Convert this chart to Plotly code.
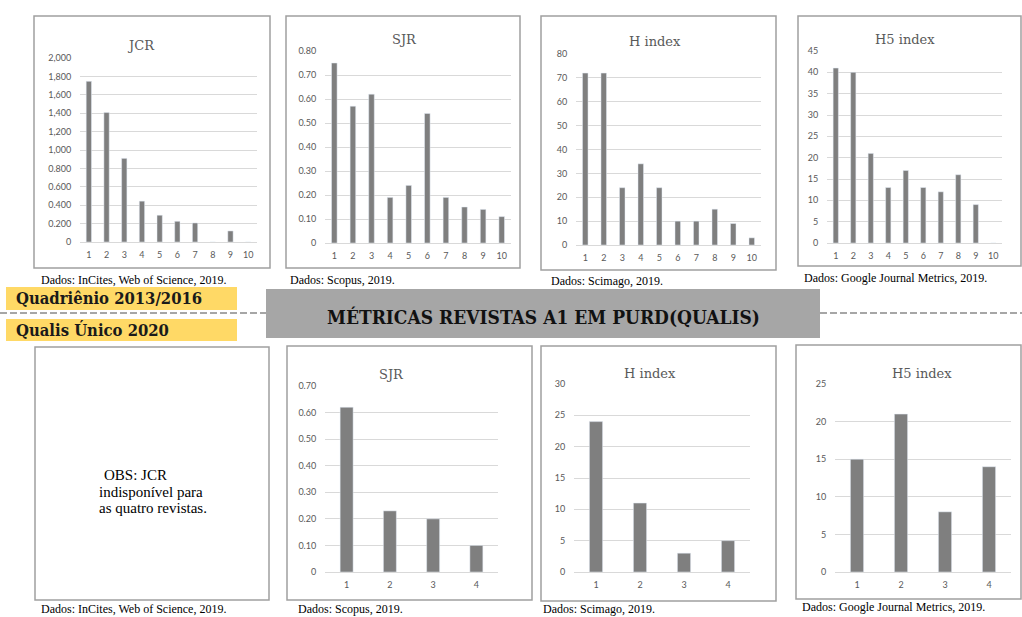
import plotly.graph_objects as go

W, H = 1022, 617

# ---------------- data ----------------
cats10 = ["1", "2", "3", "4", "5", "6", "7", "8", "9", "10"]
cats4 = ["1", "2", "3", "4"]

jcr_2016 = [1.746, 1.407, 0.909, 0.444, 0.291, 0.225, 0.207, 0, 0.12, 0]
sjr_2016 = [0.75, 0.57, 0.62, 0.19, 0.24, 0.54, 0.19, 0.15, 0.14, 0.11]
hindex_2016 = [72, 72, 24, 34, 24, 10, 10, 15, 9, 3]
h5index_2016 = [41, 40, 21, 13, 17, 13, 12, 16, 9, 0]

sjr_2020 = [0.62, 0.23, 0.20, 0.10]
hindex_2020 = [24, 11, 3, 5]
h5index_2020 = [15, 21, 8, 14]

jcr_tickvals = [0, 0.2, 0.4, 0.6, 0.8, 1.0, 1.2, 1.4, 1.6, 1.8, 2.0]
jcr_ticktext = ["0", "0.200", "0.400", "0.600", "0.800", "1,000", "1,200", "1,400", "1,600", "1,800", "2,000"]
sjr8_tickvals = [0, 0.1, 0.2, 0.3, 0.4, 0.5, 0.6, 0.7, 0.8]
sjr8_ticktext = ["0", "0.10", "0.20", "0.30", "0.40", "0.50", "0.60", "0.70", "0.80"]
sjr7_tickvals = [0, 0.1, 0.2, 0.3, 0.4, 0.5, 0.6, 0.7]
sjr7_ticktext = ["0", "0.10", "0.20", "0.30", "0.40", "0.50", "0.60", "0.70"]
h80_tickvals = [0, 10, 20, 30, 40, 50, 60, 70, 80]
h45_tickvals = [0, 5, 10, 15, 20, 25, 30, 35, 40, 45]
h30_tickvals = [0, 5, 10, 15, 20, 25, 30]
h25_tickvals = [0, 5, 10, 15, 20, 25]

titles = ["JCR", "SJR", "H index", "H5 index", "SJR", "H index", "H5 index"]
captions_top = ["Dados: InCites, Web of Science, 2019.", "Dados: Scopus, 2019.",
                "Dados: Scimago, 2019.", "Dados: Google Journal Metrics, 2019."]
captions_bottom = ["Dados: InCites, Web of Science, 2019.", "Dados: Scopus, 2019.",
                   "Dados: Scimago, 2019.", "Dados: Google Journal Metrics, 2019."]
label_2016 = "Quadriênio 2013/2016"
label_2020 = "Qualis Único 2020"
banner = "MÉTRICAS REVISTAS A1 EM PURD(QUALIS)"
obs_lines = ["OBS: JCR", "indisponível para", "as quatro revistas."]

# ---------------- helpers ----------------
def px(x):
    return x / W

def py(y):
    return 1 - y / H

BAR = "#7F7F7F"
GRID = "#D9D9D9"
TXT = "#595959"
BOX = "#A0A0A0"

# panel geometry (pixels): plot x0,x1, y_zero, y_top ; title x,y
panels = [
    dict(cats=cats10, vals=jcr_2016, tv=jcr_tickvals, tt=jcr_ticktext, ymax=2.0,
         x0=80, x1=257, yb=242, yt=58, tx=141, ty=46, title=titles[0]),
    dict(cats=cats10, vals=sjr_2016, tv=sjr8_tickvals, tt=sjr8_ticktext, ymax=0.8,
         x0=325, x1=511, yb=243, yt=51, tx=404, ty=40, title=titles[1]),
    dict(cats=cats10, vals=hindex_2016, tv=h80_tickvals, tt=[str(v) for v in h80_tickvals], ymax=80,
         x0=576, x1=761, yb=245, yt=54, tx=655, ty=42, title=titles[2]),
    dict(cats=cats10, vals=h5index_2016, tv=h45_tickvals, tt=[str(v) for v in h45_tickvals], ymax=45,
         x0=827, x1=1002, yb=243, yt=51, tx=905, ty=40, title=titles[3]),
    dict(cats=cats4, vals=sjr_2020, tv=sjr7_tickvals, tt=sjr7_ticktext, ymax=0.7,
         x0=325, x1=498, yb=572, yt=386, tx=391, ty=374, title=titles[4]),
    dict(cats=cats4, vals=hindex_2020, tv=h30_tickvals, tt=[str(v) for v in h30_tickvals], ymax=30,
         x0=574, x1=750, yb=572, yt=384, tx=650, ty=373, title=titles[5]),
    dict(cats=cats4, vals=h5index_2020, tv=h25_tickvals, tt=[str(v) for v in h25_tickvals], ymax=25,
         x0=835, x1=1011, yb=572, yt=384, tx=922, ty=373, title=titles[6]),
]

fig = go.Figure()
layout = {}
annotations = []
shapes = []

tickfont = dict(family="Lato, Open Sans, sans-serif", size=9, color=TXT)

for i, p in enumerate(panels):
    n = i + 1
    xa = "x" if n == 1 else f"x{n}"
    ya = "y" if n == 1 else f"y{n}"
    fig.add_trace(go.Bar(x=p["cats"], y=p["vals"], marker_color=BAR, width=0.3,
                         xaxis=xa, yaxis=ya, showlegend=False, hoverinfo="x+y"))
    xk = "xaxis" if n == 1 else f"xaxis{n}"
    yk = "yaxis" if n == 1 else f"yaxis{n}"
    layout[xk] = dict(domain=[px(p["x0"]), px(p["x1"])], anchor=ya, type="category",
                      range=[-0.5, len(p["cats"]) - 0.5], showgrid=False, zeroline=False,
                      showline=True, linecolor=GRID, linewidth=1, automargin=False,
                      ticks="outside", ticklen=4, tickcolor="rgba(0,0,0,0)",
                      tickfont=tickfont, fixedrange=True)
    layout[yk] = dict(domain=[py(p["yb"]), py(p["yt"])], anchor=xa,
                      range=[0, p["ymax"]], tickvals=p["tv"], ticktext=p["tt"],
                      showgrid=True, gridcolor=GRID, gridwidth=1, zeroline=False,
                      showline=False, ticks="outside", ticklen=6, automargin=False,
                      tickcolor="rgba(0,0,0,0)", tickfont=tickfont, fixedrange=True)
    annotations.append(dict(x=px(p["tx"]), y=py(p["ty"]), xref="paper", yref="paper",
                            text=p["title"], showarrow=False, xanchor="center", yanchor="middle",
                            font=dict(family="DejaVu Serif, serif", size=13, color=TXT)))

# panel boxes
boxes = [(34, 16, 270, 268), (286, 16, 520, 268), (541, 16, 776, 270), (798, 16, 1021, 266),
         (35, 347, 269, 600), (287, 346, 532, 600), (541, 346, 776, 601), (796, 345, 1021, 599)]
for (x0, y0, x1, y1) in boxes:
    shapes.append(dict(type="rect", xref="paper", yref="paper",
                       x0=px(x0), x1=px(x1), y0=py(y1), y1=py(y0),
                       line=dict(color=BOX, width=1.5), fillcolor="rgba(0,0,0,0)"))

# captions
cap_font = dict(family="Liberation Serif, serif", size=12, color="#000000")
cap_pos_top = [(39, 280), (288, 280), (549, 281), (802, 278)]
cap_pos_bot = [(39, 609), (296, 609), (541, 609), (800, 607)]
for txt, (x, y) in zip(captions_top, cap_pos_top):
    annotations.append(dict(x=px(x), y=py(y), xref="paper", yref="paper", text=txt,
                            showarrow=False, xanchor="left", yanchor="middle", font=cap_font))
for txt, (x, y) in zip(captions_bottom, cap_pos_bot):
    annotations.append(dict(x=px(x), y=py(y), xref="paper", yref="paper", text=txt,
                            showarrow=False, xanchor="left", yanchor="middle", font=cap_font))

# OBS text
obs_font = dict(family="Liberation Serif, serif", size=15, color="#000000")
for txt, (x, y) in zip(obs_lines, [(102, 475), (97, 492), (97, 508)]):
    annotations.append(dict(x=px(x), y=py(y), xref="paper", yref="paper", text=txt,
                            showarrow=False, xanchor="left", yanchor="middle", font=obs_font))

# dashed separator
for (x0, x1) in [(0, 266), (820, 1022)]:
    shapes.append(dict(type="line", xref="paper", yref="paper", x0=px(x0), x1=px(x1),
                       y0=py(313), y1=py(313), line=dict(color="#A6A6A6", width=2, dash="7px,3px")))

# yellow labels
for (y0, y1) in [(287, 310), (319, 341)]:
    shapes.append(dict(type="rect", xref="paper", yref="paper", x0=px(6), x1=px(237),
                       y0=py(y1), y1=py(y0), line=dict(width=0), fillcolor="#FFD966", layer="below"))
head_font = dict(family="DejaVu Serif Condensed, DejaVu Serif, serif", size=16.5, color="#1A1A1A")
annotations.append(dict(x=px(14), y=py(299), xref="paper", yref="paper", text=f"<b>{label_2016}</b>",
                        showarrow=False, xanchor="left", yanchor="middle", font=head_font))
annotations.append(dict(x=px(14), y=py(330), xref="paper", yref="paper", text=f"<b>{label_2020}</b>",
                        showarrow=False, xanchor="left", yanchor="middle", font=head_font))

# gray banner
shapes.append(dict(type="rect", xref="paper", yref="paper", x0=px(266), x1=px(820),
                   y0=py(338), y1=py(289), line=dict(width=0), fillcolor="#A6A6A6"))
annotations.append(dict(x=px(543), y=py(317), xref="paper", yref="paper", text=f"<b>{banner}</b>",
                        showarrow=False, xanchor="center", yanchor="middle",
                        font=dict(family="DejaVu Serif Condensed, DejaVu Serif, serif", size=19, color="#111111")))

fig.update_layout(**layout)
fig.update_layout(width=W, height=H, margin=dict(l=0, r=0, t=0, b=0, pad=0, autoexpand=False),
                  paper_bgcolor="white", plot_bgcolor="white", bargap=0.7,
                  annotations=annotations, shapes=shapes, showlegend=False)

fig.write_html("out.html", config={"displayModeBar": False},
               post_script="document.body.style.margin='0';document.body.style.overflow='hidden';")
